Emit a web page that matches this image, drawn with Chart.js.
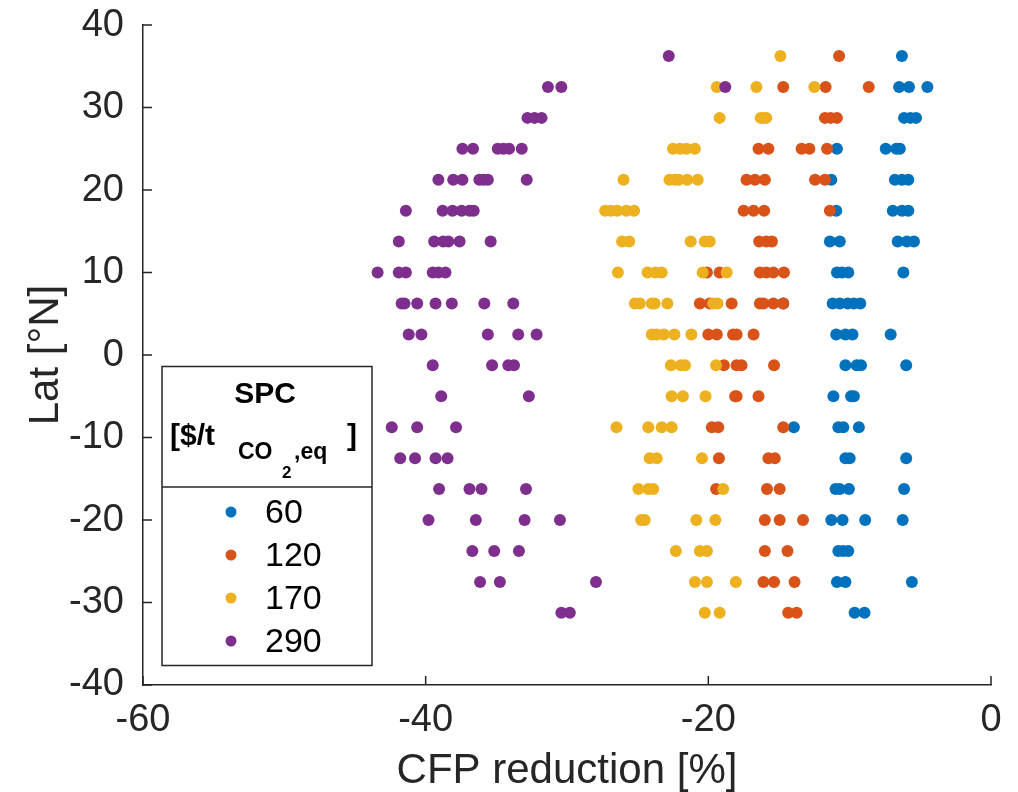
<!DOCTYPE html>
<html>
<head>
<meta charset="utf-8">
<script src="https://cdn.jsdelivr.net/npm/chart.js@4.4.1/dist/chart.umd.min.js"></script>
<style>
  body { margin: 0; background: #fff; }
</style>
</head>
<body>
<canvas id="chart" width="1018" height="792"></canvas>
<script>
// latitude rows (°N), top to bottom
const lats = [36.25, 32.5, 28.75, 25, 21.25, 17.5, 13.75, 10, 6.25, 2.5,
  -1.25, -5, -8.75, -12.5, -16.25, -20, -23.75, -27.5, -31.25];

// CFP reduction [%] per latitude row, one array per SPC level
const cfp60 = [
  [-6.3], [-6.5, -5.8, -4.5], [-6.15, -5.7, -5.3], [-10.9, -7.45, -6.7, -6.45],
  [-11.3, -6.8, -6.3, -5.85], [-10.95, -6.95, -6.3, -5.85], [-11.4, -10.7, -6.6, -5.95, -5.45],
  [-10.9, -10.55, -10.1, -6.2], [-14.7, -11.2, -10.7, -10.15, -9.7, -9.25],
  [-10.95, -10.3, -9.8, -7.1], [-10.3, -9.5, -9.2, -6.0], [-11.15, -9.9, -9.7],
  [-13.95, -10.8, -10.45, -9.35], [-10.3, -10.0, -6.0], [-11.0, -10.7, -10.05, -6.15],
  [-11.3, -10.5, -8.9, -6.25], [-10.8, -10.45, -10.1], [-10.9, -10.3, -5.6], [-9.65, -8.95]
];
const cfp120 = [
  [-10.75], [-14.7, -11.7, -8.65], [-11.75, -11.35, -10.9], [-16.45, -15.75, -13.4, -12.85, -11.6],
  [-17.3, -16.7, -16.0, -12.45, -11.75], [-17.5, -16.8, -16.05, -11.4], [-16.4, -15.9, -15.5],
  [-20.1, -19.2, -16.35, -15.9, -15.4, -14.65], [-20.6, -19.9, -18.35, -16.35, -16.1, -15.4, -14.7],
  [-20.0, -19.4, -18.25, -18.0, -16.8], [-18.9, -18.0, -17.65, -15.35], [-18.1, -18.0, -16.45],
  [-19.75, -19.3, -14.7], [-19.25, -15.75, -15.3], [-19.45, -15.85, -14.95],
  [-16.0, -14.95, -13.3], [-16.0, -14.4], [-16.1, -15.35, -13.9], [-14.35, -13.75]
];
const cfp170 = [
  [-14.9], [-19.4, -16.6, -12.5], [-19.2, -16.3, -16.1, -15.9], [-22.5, -22.0, -21.55, -20.95],
  [-26.0, -22.75, -22.35, -22.1, -21.5, -20.75], [-27.3, -26.9, -26.45, -25.8, -25.25],
  [-26.1, -25.6, -21.25, -20.25, -19.9], [-26.4, -24.3, -23.75, -23.3, -20.4, -18.7],
  [-25.2, -24.85, -24.0, -23.8, -22.9, -19.65, -19.35], [-24.0, -23.65, -23.15, -22.4, -21.2],
  [-22.65, -21.95, -21.65, -19.45], [-22.6, -21.8, -20.2], [-26.5, -24.25, -23.3, -22.6],
  [-24.15, -23.65, -20.45], [-24.95, -24.25, -23.9, -18.95], [-24.75, -24.5, -20.85, -19.5],
  [-22.3, -20.6, -20.1], [-20.95, -20.1, -18.05], [-20.25, -19.2]
];
const cfp290 = [
  [-22.8], [-31.35, -30.4, -18.8], [-32.8, -32.3, -31.8], [-37.4, -36.65, -34.9, -34.5, -34.1, -33.2],
  [-39.1, -38.05, -37.4, -36.2, -35.9, -35.6, -32.85], [-41.4, -38.8, -38.1, -37.45, -36.9, -36.6],
  [-41.9, -39.4, -38.75, -38.4, -37.6, -35.4], [-43.4, -41.9, -41.4, -39.5, -39.1, -38.6],
  [-41.7, -41.5, -40.6, -39.3, -38.15, -35.85, -33.8], [-41.2, -40.3, -35.6, -33.45, -32.15],
  [-39.5, -35.3, -34.15, -33.75], [-38.9, -32.7], [-42.4, -40.6, -37.85],
  [-41.8, -40.75, -39.3, -38.45], [-39.05, -36.9, -36.05, -32.9], [-39.8, -36.45, -33.0, -30.5],
  [-36.7, -35.15, -33.4], [-36.15, -34.75, -27.95], [-30.4, -29.8]
];

const spcLabels = ['60', '120', '170', '290'];
const spcColors = ['#0072BD', '#D95319', '#EDB120', '#7E2F8E'];

const FONT = '"Liberation Sans", Arial, Helvetica, sans-serif';
const AXIS_COLOR = '#262626';

function toPoints(rows) {
  const pts = [];
  rows.forEach((row, i) => row.forEach((x) => pts.push({ x: x, y: lats[i] })));
  return pts;
}

const series = [cfp60, cfp120, cfp170, cfp290];

// MATLAB style tick marks pointing into the axes
const inwardTicks = {
  id: 'inwardTicks',
  afterDraw(chart) {
    const ctx = chart.ctx;
    const xs = chart.scales.x, ys = chart.scales.y;
    const len = 9;
    ctx.save();
    ctx.strokeStyle = AXIS_COLOR;
    ctx.lineWidth = 1.5;
    ctx.beginPath();
    xs.ticks.forEach((t) => {
      const px = xs.getPixelForValue(t.value);
      ctx.moveTo(px, ys.bottom);
      ctx.lineTo(px, ys.bottom - len);
    });
    ys.ticks.forEach((t) => {
      const py = ys.getPixelForValue(t.value);
      ctx.moveTo(xs.left, py);
      ctx.lineTo(xs.left + len, py);
    });
    ctx.stroke();
    ctx.restore();
  }
};

// boxed legend with title and divider
const legendBox = {
  id: 'legendBox',
  afterDraw(chart) {
    const ctx = chart.ctx;
    const L = 162, T = 366.5, R = 372, B = 665.5, D = 487;
    ctx.save();
    ctx.fillStyle = '#fff';
    ctx.fillRect(L, T, R - L, B - T);
    ctx.strokeStyle = AXIS_COLOR;
    ctx.lineWidth = 1.5;
    ctx.strokeRect(L, T, R - L, B - T);
    ctx.beginPath();
    ctx.moveTo(L, D);
    ctx.lineTo(R, D);
    ctx.stroke();

    ctx.fillStyle = '#000';
    ctx.textBaseline = 'alphabetic';
    ctx.textAlign = 'center';
    ctx.font = 'bold 30px ' + FONT;
    ctx.fillText('SPC', 265, 403);
    ctx.textAlign = 'left';
    ctx.fillText('[$/t', 170, 445);
    ctx.font = 'bold 23px ' + FONT;
    ctx.fillText('CO', 238, 459);
    ctx.font = 'bold 17px ' + FONT;
    ctx.fillText('2', 282, 478);
    ctx.font = 'bold 23px ' + FONT;
    ctx.fillText(',eq', 294, 459);
    ctx.font = 'bold 30px ' + FONT;
    ctx.fillText(']', 347, 445);

    ctx.font = '34px ' + FONT;
    ctx.textBaseline = 'middle';
    chart.data.datasets.forEach((ds, i) => {
      const y = 512 + i * 43;
      ctx.fillStyle = ds.backgroundColor;
      ctx.beginPath();
      ctx.arc(231, y, 5.5, 0, Math.PI * 2);
      ctx.fill();
      ctx.fillStyle = '#000';
      ctx.fillText(ds.label, 265, y + 2);
    });
    ctx.restore();
  }
};

new Chart(document.getElementById('chart'), {
  type: 'scatter',
  data: {
    datasets: series.map((rows, i) => ({
      label: spcLabels[i],
      data: toPoints(rows),
      backgroundColor: spcColors[i],
      borderWidth: 0,
      pointRadius: 6,
      pointHoverRadius: 6,
      order: series.length - i
    }))
  },
  options: {
    responsive: false,
    animation: false,
    layout: { autoPadding: false, padding: { left: 0, top: 24, right: 27, bottom: 0 } },
    plugins: {
      legend: { display: false },
      tooltip: { enabled: false }
    },
    scales: {
      x: {
        type: 'linear',
        min: -60,
        max: 0,
        afterFit: (s) => { s.height = 107; },
        ticks: { stepSize: 20, color: AXIS_COLOR, padding: 13, font: { family: FONT, size: 38 } },
        grid: { display: false, drawTicks: false },
        border: { display: true, color: AXIS_COLOR, width: 1.5 },
        title: {
          display: true, text: 'CFP reduction [%]', color: AXIS_COLOR, padding: 0,
          font: { family: FONT, size: 42, lineHeight: 1 }
        }
      },
      y: {
        type: 'linear',
        min: -40,
        max: 40,
        afterFit: (s) => { s.width = 143; },
        ticks: { stepSize: 10, color: AXIS_COLOR, padding: 19, font: { family: FONT, size: 38, lineHeight: 0.32 } },
        grid: { display: false, drawTicks: false },
        border: { display: true, color: AXIS_COLOR, width: 1.5 },
        title: {
          display: true, text: 'Lat [°N]', color: AXIS_COLOR, padding: { top: 25, bottom: 0 },
          font: { family: FONT, size: 42, lineHeight: 1 }
        }
      }
    }
  },
  plugins: [inwardTicks, legendBox]
});
</script>
</body>
</html>
